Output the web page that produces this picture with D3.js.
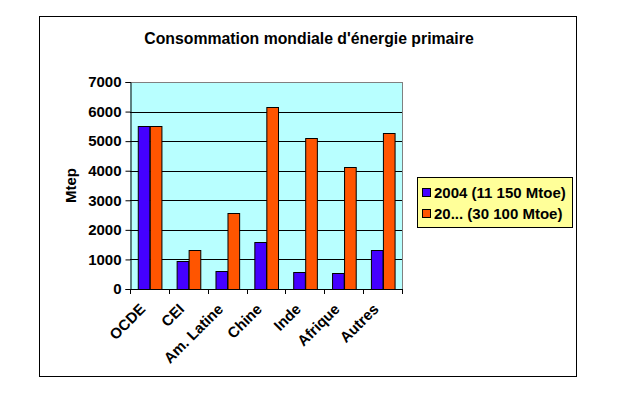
<!DOCTYPE html>
<html>
<head>
  <meta charset="utf-8">
  <title>Consommation mondiale</title>
  <script src="https://d3js.org/d3.v7.min.js"></script>
  <style>
    body { margin: 0; background: #fff; }
    text { font-family: "Liberation Sans", Arial, sans-serif; }
  </style>
</head>
<body>
<div id="chart"></div>
<script type="text/javascript">
  let regions = ['OCDE', 'CEI', 'Am. Latine', 'Chine', 'Inde', 'Afrique', 'Autres'];
  let seriesNames = ['2004 (11 150 Mtoe)', '20... (30 100 Mtoe)'];
  let values2004 = [5500, 960, 610, 1590, 575, 540, 1320];
  let valuesFuture = [5500, 1320, 2570, 6150, 5100, 4120, 5270];
  let yTicks = [0, 1000, 2000, 3000, 4000, 5000, 6000, 7000];
  let colors = ['#4400ff', '#ff5500'];

  let w = 630, h = 408;
  let plot = {left: 130, top: 82, right: 402, bottom: 289};

  let svg = d3.select('#chart').append('svg')
              .attr('width', w)
              .attr('height', h);

  // cadre extérieur
  svg.append('rect')
     .attr('x', 39.5).attr('y', 16.5)
     .attr('width', 537).attr('height', 360)
     .attr('fill', '#fff').attr('stroke', '#000').attr('stroke-width', 1);

  svg.append('text')
     .attr('x', 309).attr('y', 44)
     .attr('text-anchor', 'middle')
     .attr('font-size', '15.8px').attr('font-weight', 'bold')
     .text("Consommation mondiale d'énergie primaire");

  let x0 = d3.scaleBand().domain(regions)
             .range([plot.left, plot.right])
             .paddingInner(0.4).paddingOuter(0.2);
  let x1 = d3.scaleBand().domain([0, 1]).range([0, x0.bandwidth()]);
  let y = d3.scaleLinear().domain([0, 7000]).range([plot.bottom, plot.top]);

  // fond de la zone de tracé
  svg.append('rect')
     .attr('x', plot.left).attr('y', plot.top)
     .attr('width', plot.right - plot.left).attr('height', plot.bottom - plot.top)
     .attr('fill', '#b8ffff');

  // grille
  svg.append('g').selectAll('line')
     .data(yTicks.filter(d => d > 0))
     .enter().append('line')
     .attr('x1', plot.left).attr('x2', plot.right)
     .attr('y1', d => Math.round(y(d)) + 0.5).attr('y2', d => Math.round(y(d)) + 0.5)
     .attr('stroke', d => d === 7000 ? '#808080' : '#000');
  svg.append('line')
     .attr('x1', plot.right + 0.5).attr('x2', plot.right + 0.5)
     .attr('y1', plot.top).attr('y2', plot.bottom)
     .attr('stroke', '#808080');

  // barres
  let groups = svg.append('g').selectAll('g')
     .data(regions.map((r, i) => ({r: r, v: [values2004[i], valuesFuture[i]]})))
     .enter().append('g')
     .attr('transform', d => `translate(${x0(d.r)},0)`);
  groups.selectAll('rect')
     .data(d => d.v)
     .enter().append('rect')
     .attr('x', (d, i) => Math.round(x1(i)) + 0.5)
     .attr('y', d => Math.round(y(d)) + 0.5)
     .attr('width', x1.bandwidth())
     .attr('height', d => Math.round(y(0)) - Math.round(y(d)))
     .attr('fill', (d, i) => colors[i])
     .attr('stroke', '#000').attr('stroke-width', 1);

  // axe Y
  let yAxis = svg.append('g')
     .attr('transform', `translate(${plot.left + 0.5},0)`)
     .call(d3.axisLeft(y).tickValues(yTicks).tickSize(5).tickPadding(4).tickFormat(d3.format('d')));
  yAxis.selectAll('text')
     .attr('font-size', '15px').attr('font-weight', 'bold')
     .attr('font-family', '"Liberation Sans", Arial, sans-serif').attr('fill', '#000');
  yAxis.select('.domain').attr('stroke', '#000');

  svg.append('text')
     .attr('transform', `translate(76,${(plot.top + plot.bottom) / 2}) rotate(-90)`)
     .attr('text-anchor', 'middle')
     .attr('font-size', '15px').attr('font-weight', 'bold')
     .text('Mtep');

  // axe X
  let step = (plot.right - plot.left) / regions.length;
  svg.append('line')
     .attr('x1', plot.left).attr('x2', plot.right + 1)
     .attr('y1', plot.bottom + 0.5).attr('y2', plot.bottom + 0.5)
     .attr('stroke', '#000');
  svg.append('g').selectAll('line')
     .data(d3.range(regions.length + 1))
     .enter().append('line')
     .attr('x1', i => Math.round(plot.left + i * step) + 0.5)
     .attr('x2', i => Math.round(plot.left + i * step) + 0.5)
     .attr('y1', plot.bottom).attr('y2', plot.bottom + 5)
     .attr('stroke', '#000');
  svg.append('g').selectAll('text')
     .data(regions)
     .enter().append('text')
     .attr('transform', d => `translate(${x0(d) + x0.bandwidth() / 2 - 3},${plot.bottom + 21}) rotate(-45)`)
     .attr('text-anchor', 'end')
     .attr('font-size', '15px').attr('font-weight', 'bold')
     .text(d => d);

  // légende
  let legend = svg.append('g');
  legend.append('rect')
     .attr('x', 417.5).attr('y', 177.5)
     .attr('width', 155).attr('height', 50)
     .attr('fill', '#ffff99').attr('stroke', '#000');
  let items = legend.selectAll('g.item')
     .data(seriesNames)
     .enter().append('g')
     .attr('transform', (d, i) => `translate(422,${192 + i * 21})`);
  items.append('rect')
     .attr('x', 0.5).attr('y', -3.5).attr('width', 8).attr('height', 8)
     .attr('fill', (d, i) => colors[i]).attr('stroke', '#000');
  items.append('text')
     .attr('x', 12).attr('y', 6)
     .attr('font-size', '15px').attr('font-weight', 'bold')
     .text(d => d);
</script>
</body>
</html>
